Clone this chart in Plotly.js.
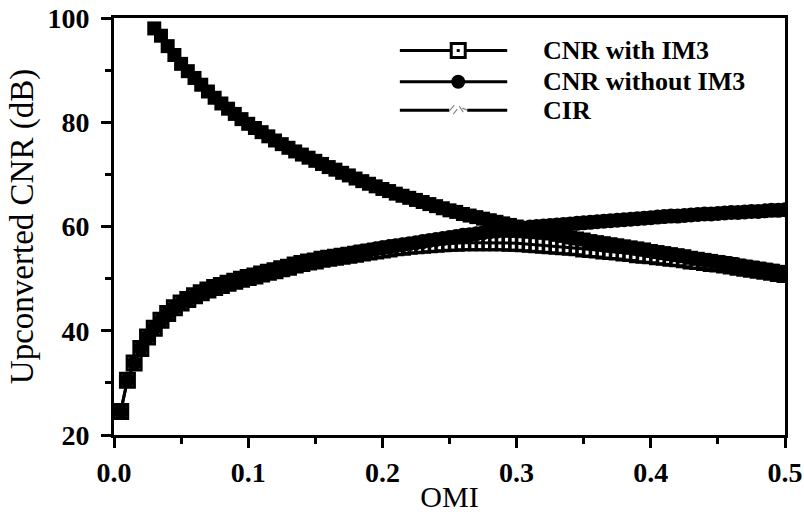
<!DOCTYPE html>
<html>
<head>
<meta charset="utf-8">
<script src="https://cdn.plot.ly/plotly-3.0.1.min.js"></script>
<style>html,body{margin:0;padding:0;background:#fff;}#chart{width:804px;height:517px;}</style>
</head>
<body>
<div id="chart"></div>
<script>
// OMI values (x)
const omi = [0.005,0.010,0.015,0.020,0.025,0.030,0.035,0.040,0.045,0.050,
0.055,0.060,0.065,0.070,0.075,0.080,0.085,0.090,0.095,0.100,
0.105,0.110,0.115,0.120,0.125,0.130,0.135,0.140,0.145,0.150,
0.155,0.160,0.165,0.170,0.175,0.180,0.185,0.190,0.195,0.200,
0.205,0.210,0.215,0.220,0.225,0.230,0.235,0.240,0.245,0.250,
0.255,0.260,0.265,0.270,0.275,0.280,0.285,0.290,0.295,0.300,
0.305,0.310,0.315,0.320,0.325,0.330,0.335,0.340,0.345,0.350,
0.355,0.360,0.365,0.370,0.375,0.380,0.385,0.390,0.395,0.400,
0.405,0.410,0.415,0.420,0.425,0.430,0.435,0.440,0.445,0.450,
0.455,0.460,0.465,0.470,0.475,0.480,0.485,0.490,0.495,0.500];

// CNR with IM3 (dB)
const cnrWithIM3 = [24.5,30.5,33.8,36.6,38.8,40.5,42.0,43.3,44.4,45.3,
46.0,46.7,47.3,47.8,48.3,48.7,49.1,49.5,49.9,50.2,
50.5,50.9,51.2,51.5,51.9,52.2,52.6,52.9,53.2,53.4,
53.7,53.9,54.1,54.3,54.5,54.7,54.9,55.1,55.3,55.5,
55.7,55.9,56.0,56.2,56.3,56.4,56.5,56.6,56.7,56.8,
56.8,56.9,56.9,56.9,56.9,56.9,56.9,56.9,56.8,56.8,
56.7,56.6,56.5,56.4,56.3,56.2,56.1,56.0,55.9,55.7,
55.6,55.5,55.3,55.2,55.1,54.9,54.8,54.6,54.5,54.4,
54.2,54.1,53.9,53.8,53.6,53.4,53.3,53.1,52.9,52.8,
52.6,52.4,52.2,52.0,51.8,51.6,51.4,51.2,51.0,50.8];

// CNR without IM3 (dB)
const cnrWithoutIM3 = [24.5,30.5,33.8,36.6,38.8,40.5,42.0,43.3,44.4,45.3,
46.0,46.7,47.3,47.8,48.3,48.7,49.1,49.5,49.9,50.3,
50.6,51.0,51.3,51.6,52.0,52.3,52.7,53.0,53.3,53.5,
53.8,54.0,54.3,54.5,54.7,55.0,55.2,55.4,55.7,55.9,
56.1,56.3,56.5,56.7,56.9,57.1,57.3,57.5,57.7,57.9,
58.1,58.3,58.4,58.6,58.8,59.0,59.1,59.3,59.4,59.6,
59.7,59.9,60.0,60.1,60.2,60.3,60.4,60.5,60.6,60.7,
60.8,60.9,61.0,61.1,61.2,61.3,61.4,61.5,61.6,61.7,
61.8,61.9,62.0,62.0,62.1,62.2,62.3,62.4,62.4,62.5,
62.6,62.7,62.7,62.8,62.9,62.9,63.0,63.1,63.1,63.2];

// CIR (dB)
const cir = [null,null,null,null,null,98.0,96.6,94.6,92.9,91.2,
89.8,88.5,87.2,85.9,84.7,83.6,82.6,81.6,80.6,79.7,
78.9,78.1,77.3,76.5,75.8,75.1,74.4,73.8,73.2,72.6,
72.0,71.4,70.9,70.3,69.8,69.2,68.7,68.2,67.7,67.2,
66.8,66.3,65.9,65.5,65.1,64.7,64.3,63.9,63.5,63.1,
62.8,62.4,62.1,61.8,61.5,61.2,60.9,60.6,60.3,60.0,
59.7,59.4,59.2,58.9,58.7,58.4,58.2,57.9,57.7,57.5,
57.2,57.0,56.8,56.6,56.4,56.2,56.0,55.8,55.6,55.3,
55.1,54.9,54.7,54.5,54.3,54.0,53.8,53.6,53.4,53.2,
53.0,52.8,52.5,52.3,52.1,51.9,51.7,51.5,51.3,51.1];

const seriesNames = ['CNR with IM3', 'CNR without IM3', 'CIR'];
const xTickVals = [0.0,0.1,0.2,0.3,0.4,0.5];
const xTickText = ['0.0','0.1','0.2','0.3','0.4','0.5'];
const yTickVals = [20,40,60,80,100];

const serif = "'Liberation Serif', 'DejaVu Serif', serif";

const traces = [
  {
    x: omi, y: cnrWithIM3, name: seriesNames[0], type: 'scatter', mode: 'lines+markers',
    line: {color: 'black', width: 3},
    marker: {symbol: 'square-open-dot', size: 14, color: 'black', line: {color: 'black', width: 3}}
  },
  {
    x: omi, y: cnrWithoutIM3, name: seriesNames[1], type: 'scatter', mode: 'lines+markers',
    line: {color: 'black', width: 3},
    marker: {symbol: 'circle', size: 15, color: 'black'}
  },
  {
    x: omi, y: cir, name: seriesNames[2], type: 'scatter', mode: 'lines+markers',
    line: {color: 'black', width: 3},
    marker: {symbol: 'square', size: 14, color: 'black'}
  }
];

// hand-drawn legend (key box in paper coordinates)
const legX0 = 0.426, legX1 = 0.586, legMark = 0.513, legText = 0.636;
const legRows = [0.922, 0.847, 0.779];
const shapes = [];
const annotations = [];
legRows.forEach(function(yy, i){
  shapes.push({type:'line', xref:'paper', yref:'paper', x0:legX0, x1:legX1, y0:yy, y1:yy, line:{color:'black', width:3}});
  annotations.push({xref:'paper', yref:'paper', x:legText, y:yy, xanchor:'left', yanchor:'middle',
    text: seriesNames[i], showarrow:false, font:{family: serif, size: 26, color:'black', weight:'bold'}});
});
// key symbols
shapes.push({type:'rect', xref:'paper', yref:'paper', xsizemode:'pixel', ysizemode:'pixel',
  xanchor:legMark, yanchor:legRows[0], x0:-7, x1:7, y0:-7, y1:7, fillcolor:'white', line:{color:'black', width:3}});
shapes.push({type:'rect', xref:'paper', yref:'paper', xsizemode:'pixel', ysizemode:'pixel',
  xanchor:legMark, yanchor:legRows[0], x0:-1.5, x1:1.5, y0:-1.5, y1:1.5, fillcolor:'black', line:{color:'black', width:0}});
shapes.push({type:'circle', xref:'paper', yref:'paper', xsizemode:'pixel', ysizemode:'pixel',
  xanchor:legMark, yanchor:legRows[1], x0:-7, x1:7, y0:-7, y1:7, fillcolor:'black', line:{color:'black', width:0}});
shapes.push({type:'rect', xref:'paper', yref:'paper', xsizemode:'pixel', ysizemode:'pixel',
  xanchor:legMark, yanchor:legRows[2], x0:-9, x1:9, y0:-3, y1:3, fillcolor:'white', line:{color:'white', width:0}});
shapes.push({type:'path', xref:'paper', yref:'paper', xsizemode:'pixel', ysizemode:'pixel',
  xanchor:legMark, yanchor:legRows[2], path:'M-9,-1 L-4,5 M-5,-4 L-1,1 M1,4 L5,-2 M4,2 L9,0', line:{color:'#888', width:1.2}});

const layout = {
  width: 804, height: 517,
  margin: {l: 114, r: 19, t: 18, b: 82},
  paper_bgcolor: 'white', plot_bgcolor: 'white',
  font: {family: serif, color: 'black'},
  showlegend: false,
  shapes: shapes,
  annotations: annotations,
  xaxis: {
    range: [0, 0.5], tickvals: xTickVals, ticktext: xTickText,
    ticks: 'outside', ticklen: 10, tickwidth: 3, tickcolor: 'black',
    minor: {dtick: 0.05, tick0: 0, ticks: 'outside', ticklen: 6, tickwidth: 3, tickcolor: 'black'},
    showline: true, linewidth: 3, linecolor: 'black', mirror: true,
    showgrid: false, zeroline: false,
    tickfont: {family: serif, size: 28, color: 'black', weight: 'bold'},
    ticklabelstandoff: 0,
    title: {text: 'OMI', font: {family: serif, size: 30, color: 'black'}, standoff: 0},
    automargin: false
  },
  yaxis: {
    range: [20, 100], tickvals: yTickVals,
    ticks: 'outside', ticklen: 10, tickwidth: 3, tickcolor: 'black',
    minor: {dtick: 10, tick0: 20, ticks: 'outside', ticklen: 6, tickwidth: 3, tickcolor: 'black'},
    showline: true, linewidth: 3, linecolor: 'black', mirror: true,
    showgrid: false, zeroline: false,
    tickfont: {family: serif, size: 28, color: 'black', weight: 'bold'},
    ticklabelstandoff: 6,
    title: {text: 'Upconverted CNR (dB)', font: {family: serif, size: 33, color: 'black'}, standoff: 4},
    automargin: false
  }
};

Plotly.newPlot('chart', traces, layout, {displayModeBar: false, staticPlot: true});
</script>
</body>
</html>
